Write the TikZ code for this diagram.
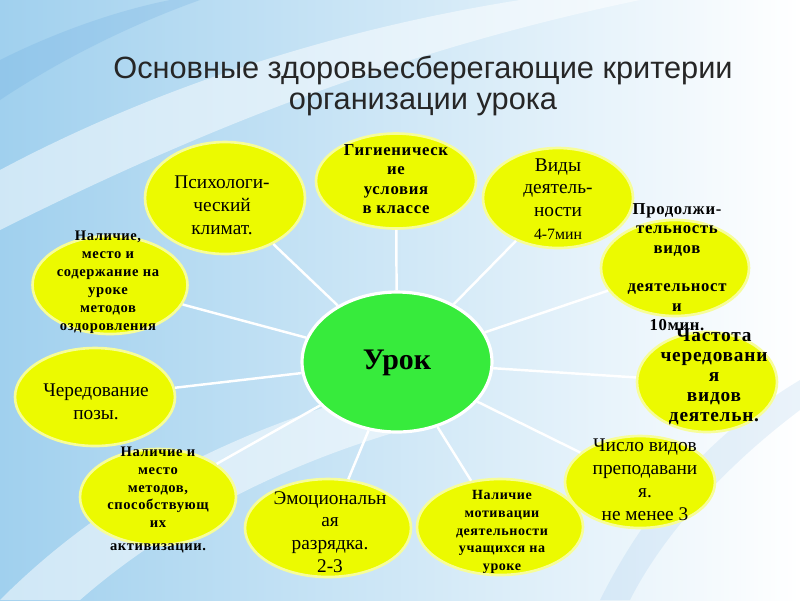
\documentclass[tikz,border=0pt]{standalone}
\usepackage{fontspec}
\setmainfont{Liberation Serif}
\newfontfamily\titlefont{Liberation Sans}
\newfontfamily\widefont[LetterSpace=4]{Liberation Serif}
\usetikzlibrary{shapes.geometric}
\definecolor{lemon}{RGB}{236,250,0}
\definecolor{lime}{RGB}{55,235,60}
\definecolor{skyblue}{RGB}{160,208,238}
\definecolor{deepsky}{RGB}{90,160,220}

\begin{document}
\begin{tikzpicture}[
    x=0.02cm, y=-0.02cm,
    bubble/.style={ellipse, fill=lemon, draw=white!60!lemon, line width=1.5pt, inner sep=0pt},
    core/.style={ellipse, fill=lime, draw=white, line width=1.8pt, inner sep=0pt},
    plain/.style={align=center, inner sep=0pt, font=\fontsize{11}{13}\selectfont},
    heavy/.style 2 args={align=center, inner sep=0pt, font=\widefont\bfseries\fontsize{#1}{#2}\selectfont},
    ray/.style={draw=white, line width=1.4pt}
]
\useasboundingbox (0,0) rectangle (800,600);

% background
\fill[left color=skyblue, right color=white] (0,0) rectangle (800,600);
\fill[white, opacity=0.5] (0,170) .. controls (150,90) and (330,30) .. (520,0) -- (640,0) .. controls (400,50) and (200,130) .. (0,230) -- cycle;
\fill[deepsky, opacity=0.2] (0,60) .. controls (60,30) and (120,10) .. (170,0) -- (200,0) .. controls (130,25) and (60,60) .. (0,100) -- cycle;
\fill[white, opacity=0.5] (0,600) .. controls (120,480) and (260,420) .. (420,380) -- (440,420) .. controls (280,460) and (160,530) .. (80,600) -- cycle;
\fill[deepsky, opacity=0.12] (600,600) .. controls (640,520) and (700,440) .. (800,380) -- (800,410) .. controls (720,470) and (660,540) .. (630,600) -- cycle;

% title
\node[font=\titlefont\fontsize{17.5}{18}\selectfont, text=black!85, align=center] (title) at (423,86)
    {Основные здоровьесберегающие критерии\\организации урока};

% bubbles
\node[core, minimum width=3.8cm, minimum height=2.8cm] (urok) at (397,362) {};
\node[bubble, minimum width=3.2cm, minimum height=2.24cm] (psy) at (225,198) {};
\node[bubble, minimum width=3.2cm, minimum height=1.9cm] (gig) at (396,181) {};
\node[bubble, minimum width=3.0cm, minimum height=2.0cm] (vidy) at (558,198) {};
\node[bubble, minimum width=2.96cm, minimum height=1.92cm] (prod) at (675,268) {};
\node[bubble, minimum width=2.8cm, minimum height=2.0cm] (chast) at (707,382) {};
\node[bubble, minimum width=3.0cm, minimum height=1.84cm] (chislo) at (640,482) {};
\node[bubble, minimum width=3.32cm, minimum height=1.92cm] (motiv) at (500,527) {};
\node[bubble, minimum width=3.32cm, minimum height=1.96cm] (emoc) at (328,528) {};
\node[bubble, minimum width=3.12cm, minimum height=1.92cm] (metod) at (158,497) {};
\node[bubble, minimum width=3.2cm, minimum height=1.96cm] (poza) at (95,397) {};
\node[bubble, minimum width=3.1cm, minimum height=1.96cm] (mesto) at (110,285) {};

% rays
\foreach \b in {psy,gig,vidy,prod,chast,chislo,motiv,emoc,metod,poza,mesto}
    \draw[ray] (urok) -- (\b);

% texts
\node[font=\bfseries\fontsize{17}{19}\selectfont] (urok-t) at (397,363) {Урок};
\node[plain] (psy-t) at (222,205) {Психологи-\\ческий\\климат.};
\node[heavy={9.5}{11}] (gig-t) at (396,179) {Гигиеническ\\ие\\условия\\в классе};
\node[plain] (vidy-t) at (558,199) {Виды\\деятель-\\ности\\{\fontsize{9}{10}\selectfont 4-7мин}};
\node[heavy={9.5}{11}] (prod-t) at (677,267) {Продолжи-\\тельность\\видов\\[11pt]деятельност\\и\\10мин.};
\node[heavy={11}{11.4}] (chast-t) at (714,377) {Частота\\чередовани\\я\\видов\\деятельн.};
\node[plain] (chislo-t) at (645,480) {Число видов\\преподавани\\я.\\не менее 3};
\node[heavy={8}{10}] (motiv-t) at (502,532) {Наличие\\мотивации\\деятельности\\учащихся на\\уроке};
\node[plain] (emoc-t) at (330,532) {Эмоциональн\\ая\\разрядка.\\2-3};
\node[heavy={8.3}{10}] (metod-t) at (158,500) {Наличие и\\место\\методов,\\способствующ\\их\\[3pt]активизации.};
\node[plain] (poza-t) at (96,402) {Чередование\\позы.};
\node[heavy={8.3}{10.2}] (mesto-t) at (108,282) {Наличие,\\место и\\содержание на\\уроке\\методов\\оздоровления};

\end{tikzpicture}
\end{document}
